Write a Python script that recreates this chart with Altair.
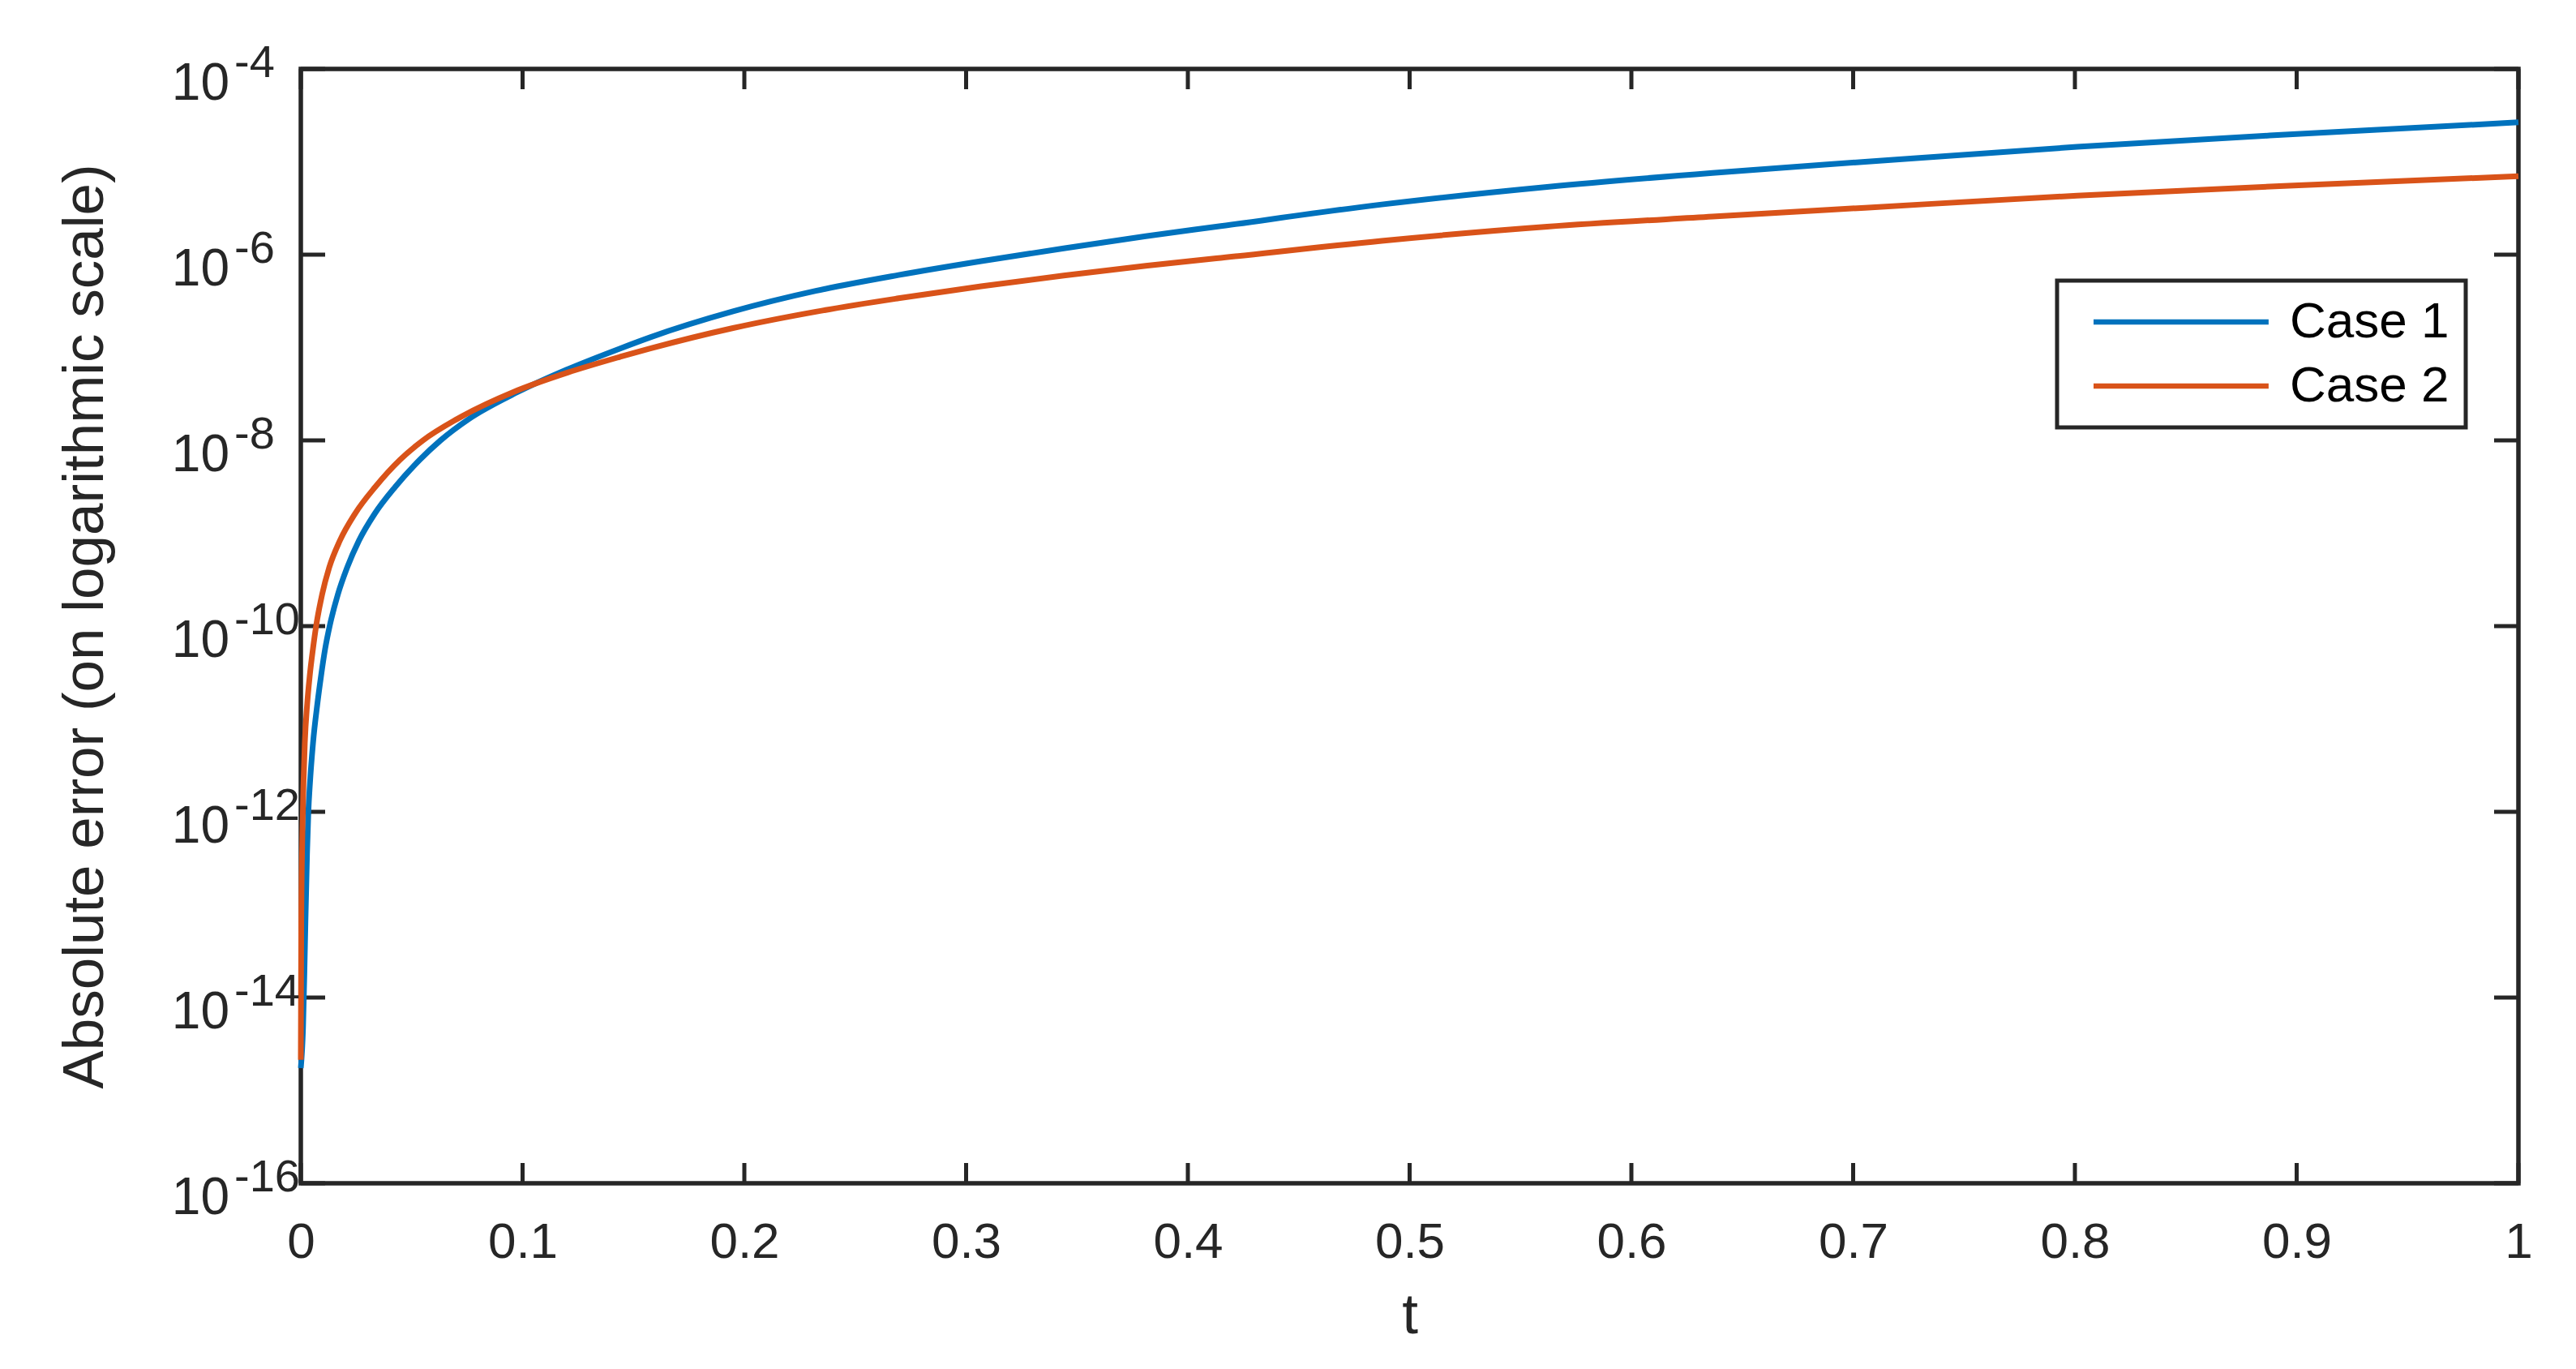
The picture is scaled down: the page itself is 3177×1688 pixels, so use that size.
import altair as alt
import pandas as pd

# ---- data ----
t_case1 = [0, 0.0010, 0.0016, 0.0021, 0.0028, 0.0034, 0.0041, 0.0055, 0.0075, 0.0091,
           0.0110, 0.0130, 0.0167, 0.0209, 0.0262, 0.0333, 0.0426, 0.0536, 0.063, 0.0758,
           0.0977, 0.1197, 0.144, 0.1576, 0.1949, 0.2322, 0.2695, 0.3068, 0.344, 0.381,
           0.4128, 0.4874, 0.562, 0.6366, 0.7053, 0.801, 0.8965, 1.0]
err_case1 = [1.74e-15, 4.79e-15, 1.82e-14, 6.92e-14, 3.55e-13, 1.0e-12, 2.0e-12, 5.5e-12, 1.48e-11, 2.88e-11,
             5.75e-11, 1.0e-10, 2.19e-10, 4.27e-10, 8.32e-10, 1.62e-9, 3.16e-9, 6.17e-9, 1.0e-8, 1.7e-8,
             3.31e-8, 5.75e-8, 9.77e-8, 1.29e-7, 2.45e-7, 4.07e-7, 6.03e-7, 8.51e-7, 1.17e-6, 1.58e-6,
             2.0e-6, 3.47e-6, 5.37e-6, 7.59e-6, 1.0e-5, 1.45e-5, 1.97e-5, 2.66e-5]

t_case2 = [0, 0.0002, 0.0007, 0.0012, 0.0018, 0.0029, 0.0040, 0.0055, 0.0069, 0.0096,
           0.0128, 0.0176, 0.0244, 0.0336, 0.0447, 0.0551, 0.0705, 0.0958, 0.1203, 0.144,
           0.1576, 0.1949, 0.2322, 0.2695, 0.3068, 0.344, 0.381, 0.4128, 0.4874, 0.562,
           0.6366, 0.7053, 0.801, 0.8965, 1.0]
err_case2 = [2.14e-15, 6.31e-14, 5.62e-13, 2.0e-12, 5.5e-12, 1.48e-11, 2.88e-11, 5.75e-11, 1.0e-10, 2.19e-10,
             4.27e-10, 8.32e-10, 1.62e-9, 3.16e-9, 6.17e-9, 1.0e-8, 1.7e-8, 3.31e-8, 5.37e-8, 7.94e-8,
             9.77e-8, 1.62e-7, 2.43e-7, 3.39e-7, 4.57e-7, 5.96e-7, 7.59e-7, 9.12e-7, 1.41e-6, 2.0e-6,
             2.57e-6, 3.2e-6, 4.32e-6, 5.53e-6, 7.0e-6]

series_names = ["Case 1", "Case 2"]
series_colors = ["#0072BD", "#D95319"]

x_ticks = [0, 0.1, 0.2, 0.3, 0.4, 0.5, 0.6, 0.7, 0.8, 0.9, 1.0]
y_tick_exps = [-16, -14, -12, -10, -8, -6, -4]

x_title = "t"
y_title = "Absolute error (on logarithmic scale)"

# ---- styling ----
W, H = 2735, 1374
AX = "#262626"
FONT = "Liberation Sans"
XTICK = 25
YTICK = 30

df = pd.concat([
    pd.DataFrame({"t": t_case1, "err": err_case1, "series": series_names[0]}),
    pd.DataFrame({"t": t_case2, "err": err_case2, "series": series_names[1]}),
], ignore_index=True)

xt = pd.DataFrame({"t": x_ticks})
yt = pd.DataFrame({"v": [10.0 ** e for e in y_tick_exps],
                   "base": ["10"] * len(y_tick_exps),
                   "exp": [str(e) for e in y_tick_exps]})

xscale = alt.Scale(domain=[0, 1], nice=False, zero=False)
yscale = alt.Scale(type="log", domain=[1e-16, 1e-4], nice=False)

lines = alt.Chart(df).mark_line(strokeWidth=7, interpolate="monotone").encode(
    x=alt.X("t:Q", scale=xscale,
            axis=alt.Axis(values=x_ticks, format=".1~f", ticks=False, tickSize=0, domain=False, grid=False,
                          labelFont=FONT, labelFontSize=62, labelColor=AX, labelPadding=91,
                          labelBaseline="alphabetic", labelFlush=False,
                          title=x_title, titleFont=FONT, titleFontSize=71, titleFontWeight="normal",
                          titleColor=AX, titleX=W / 2, titleY=184, titleAlign="center",
                          titleBaseline="alphabetic")),
    y=alt.Y("err:Q", scale=yscale,
            axis=alt.Axis(labels=False, ticks=False, tickSize=0, domain=False, grid=False,
                          title=y_title, titleFont=FONT, titleFontSize=71, titleFontWeight="normal",
                          titleColor=AX, titleX=-245, titleY=H / 2, titleAngle=270,
                          titleAlign="center", titleBaseline="alphabetic")),
    color=alt.Color("series:N", scale=alt.Scale(domain=series_names, range=series_colors),
                    legend=alt.Legend(title=None, orient="none", legendX=2166, legendY=261,
                                      symbolType="M-0.44,0H15.4", symbolSize=743, symbolStrokeWidth=6.5,
                                      labelFont=FONT, labelFontSize=62, labelColor="black",
                                      labelOffset=205, labelLimit=0, padding=20, rowPadding=17,
                                      strokeColor=AX, fillColor="white", cornerRadius=0)),
)

bottom_ticks = alt.Chart(xt).mark_rule(color=AX, strokeWidth=5).encode(
    x=alt.X("t:Q", scale=xscale), y=alt.value(H), y2=alt.value(H - XTICK))
top_ticks = alt.Chart(xt).mark_rule(color=AX, strokeWidth=5).encode(
    x=alt.X("t:Q", scale=xscale), y=alt.value(0), y2=alt.value(XTICK))
left_ticks = alt.Chart(yt).mark_rule(color=AX, strokeWidth=5).encode(
    y=alt.Y("v:Q", scale=yscale), x=alt.value(0), x2=alt.value(YTICK))
right_ticks = alt.Chart(yt).mark_rule(color=AX, strokeWidth=5).encode(
    y=alt.Y("v:Q", scale=yscale), x=alt.value(W), x2=alt.value(W - YTICK))

ylab_base = alt.Chart(yt).mark_text(font=FONT, fontSize=64, color=AX, align="right",
                                    baseline="alphabetic", dy=38).encode(
    y=alt.Y("v:Q", scale=yscale), x=alt.value(-88), text="base:N")
ylab_exp = alt.Chart(yt).mark_text(font=FONT, fontSize=56, color=AX, align="left",
                                   baseline="alphabetic", dy=10).encode(
    y=alt.Y("v:Q", scale=yscale), x=alt.value(-82), text="exp:N")

chart = alt.layer(bottom_ticks, top_ticks, left_ticks, right_ticks, lines, ylab_base, ylab_exp).properties(
    width=W, height=H,
    background="white",
    autosize=alt.AutoSizeParams(type="none"),
    padding={"left": 363, "top": 77, "right": 60, "bottom": 200},
).configure_view(stroke=AX, strokeWidth=5.5).configure_legend(strokeWidth=5)

chart.save("out.html", embed_options={"renderer": "svg", "actions": False})
